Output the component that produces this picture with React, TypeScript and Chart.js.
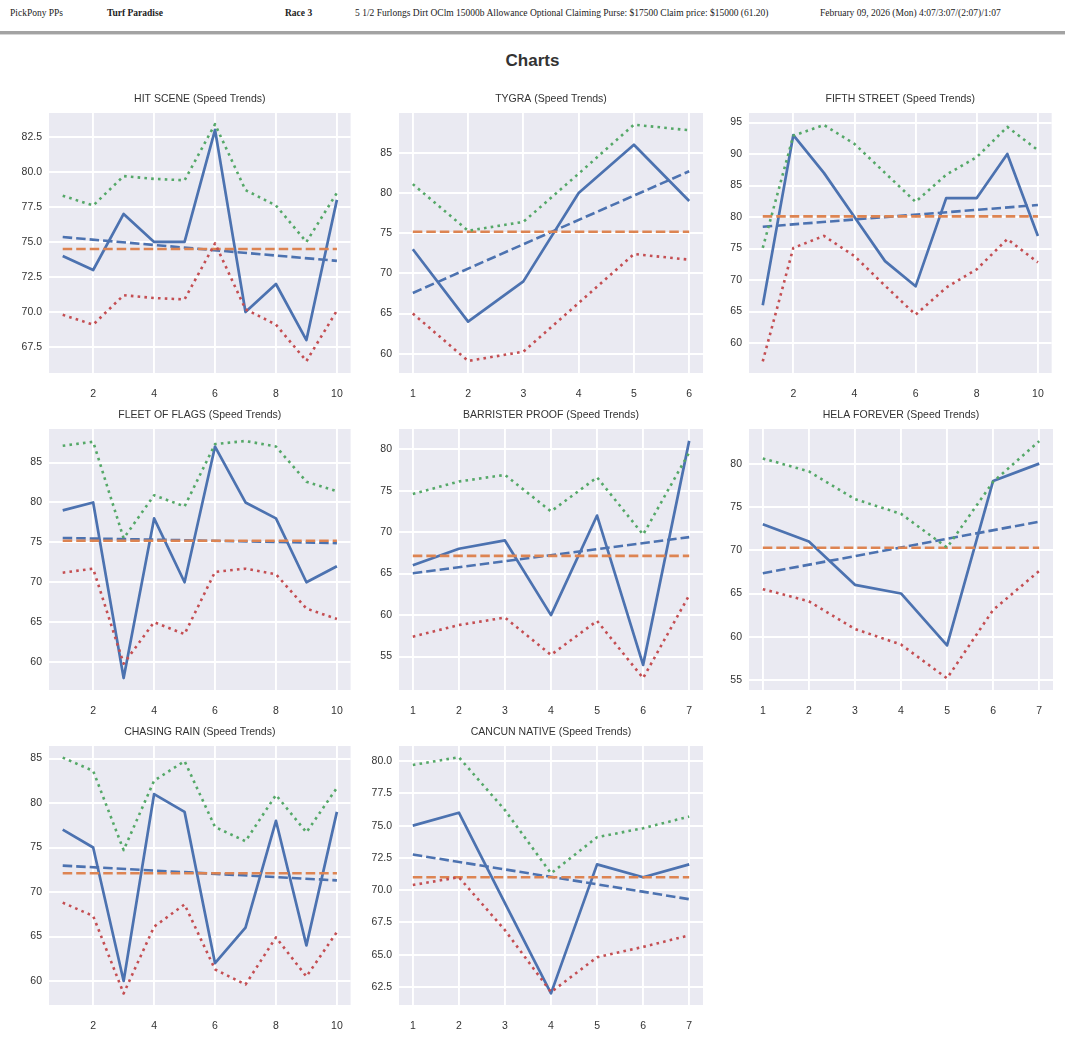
import React, { useEffect, useRef } from "react";
import { Chart, registerables } from "chart.js";

Chart.register(...registerables);

// ---------- data ----------
const horseNames = [
  "HIT SCENE",
  "TYGRA",
  "FIFTH STREET",
  "FLEET OF FLAGS",
  "BARRISTER PROOF",
  "HELA FOREVER",
  "CHASING RAIN",
  "CANCUN NATIVE",
];

const hitSceneSpeed = [74, 73, 77, 75, 75, 83, 70, 72, 68, 78];
const hitSceneUpper = [78.3, 77.6, 79.7, 79.5, 79.4, 83.4, 78.7, 77.6, 75.0, 78.5];
const hitSceneLower = [69.8, 69.1, 71.2, 71.0, 70.9, 74.9, 70.2, 69.1, 66.5, 70.1];
const hitSceneMean = 74.5;
const hitSceneTrend = [75.35, 73.65];

const tygraSpeed = [73, 64, 69, 80, 86, 79];
const tygraUpper = [81.1, 75.3, 76.4, 82.4, 88.5, 87.8];
const tygraLower = [65.0, 59.1, 60.25, 66.3, 72.4, 71.7];
const tygraMean = 75.17;
const tygraTrend = [67.56, 82.7];

const fifthStreetSpeed = [66, 93, 87, 80, 73, 69, 83, 83, 90, 77];
const fifthStreetUpper = [75.1, 92.9, 94.6, 91.6, 87.0, 82.4, 86.7, 89.5, 94.3, 90.6];
const fifthStreetLower = [57.1, 75.1, 77.0, 73.8, 69.1, 64.5, 68.8, 71.7, 76.5, 72.8];
const fifthStreetMean = 80.1;
const fifthStreetTrend = [78.45, 81.9];

const fleetSpeed = [79, 80, 58, 78, 70, 87, 80, 78, 70, 72];
const fleetUpper = [87.1, 87.6, 75.5, 80.9, 79.5, 87.3, 87.7, 87.0, 82.6, 81.4];
const fleetLower = [71.2, 71.7, 59.8, 65.0, 63.5, 71.3, 71.7, 71.0, 66.7, 65.4];
const fleetMean = 75.2;
const fleetTrend = [75.55, 74.9];

const barristerSpeed = [66, 68, 69, 60, 72, 54, 81];
const barristerUpper = [74.6, 76.1, 76.9, 72.5, 76.6, 69.7, 79.6];
const barristerLower = [57.4, 58.8, 59.7, 55.2, 59.3, 52.4, 62.4];
const barristerMean = 67.14;
const barristerTrend = [65.05, 69.4];

const helaSpeed = [73, 71, 66, 65, 59, 78, 80];
const helaUpper = [80.6, 79.1, 75.9, 74.2, 70.3, 77.9, 82.6];
const helaLower = [65.5, 64.1, 60.9, 59.1, 55.2, 63.1, 67.6];
const helaMean = 70.29;
const helaTrend = [67.33, 73.3];

const chasingSpeed = [77, 75, 60, 81, 79, 62, 66, 78, 64, 79];
const chasingUpper = [85.1, 83.6, 74.7, 82.5, 84.7, 77.3, 75.7, 80.9, 76.7, 81.7];
const chasingLower = [68.8, 67.3, 58.6, 66.1, 68.6, 61.3, 59.6, 64.9, 60.5, 65.5];
const chasingMean = 72.1;
const chasingTrend = [72.96, 71.3];

const cancunSpeed = [75, 76, 69, 62, 72, 71, 72];
const cancunUpper = [79.7, 80.3, 76.2, 71.3, 74.1, 74.8, 75.7];
const cancunLower = [70.4, 71.0, 66.9, 62.1, 64.8, 65.6, 66.5];
const cancunMean = 71.0;
const cancunTrend = [72.76, 69.3];

const xTicksTen = [2, 4, 6, 8, 10];
const xTicksSix = [1, 2, 3, 4, 5, 6];
const xTicksSeven = [1, 2, 3, 4, 5, 6, 7];

const yTicksHit = [67.5, 70, 72.5, 75, 77.5, 80, 82.5];
const yTicksTygra = [60, 65, 70, 75, 80, 85];
const yTicksFifth = [60, 65, 70, 75, 80, 85, 90, 95];
const yTicksFleet = [60, 65, 70, 75, 80, 85];
const yTicksBarrister = [55, 60, 65, 70, 75, 80];
const yTicksHela = [55, 60, 65, 70, 75, 80];
const yTicksChasing = [60, 65, 70, 75, 80, 85];
const yTicksCancun = [62.5, 65, 67.5, 70, 72.5, 75, 77.5, 80];

const yRanges = [
  [65.65, 84.2],
  [57.6, 89.95],
  [55.25, 96.5],
  [56.5, 89.2],
  [50.97, 82.43],
  [53.85, 84.0],
  [57.3, 86.4],
  [61.1, 81.17],
];

// ---------- styles ----------
const BLUE = "#4C72B0";
const ORANGE = "#DD8452";
const GREEN = "#55A868";
const RED = "#C44E52";
const PLOT_BG = "#EAEAF2";
const TEXT = "#333333";
const FONT = "'Liberation Sans', Arial, Helvetica, sans-serif";

type Panel = {
  name: string;
  speed: number[];
  upper: number[];
  lower: number[];
  mean: number;
  trend: number[];
  yTicks: number[];
  xTicks: number[];
  decimals: number;
  yRange: number[];
};

const panels: Panel[] = [
  { name: horseNames[0], speed: hitSceneSpeed, upper: hitSceneUpper, lower: hitSceneLower, mean: hitSceneMean, trend: hitSceneTrend, yTicks: yTicksHit, xTicks: xTicksTen, decimals: 1, yRange: yRanges[0] },
  { name: horseNames[1], speed: tygraSpeed, upper: tygraUpper, lower: tygraLower, mean: tygraMean, trend: tygraTrend, yTicks: yTicksTygra, xTicks: xTicksSix, decimals: 0, yRange: yRanges[1] },
  { name: horseNames[2], speed: fifthStreetSpeed, upper: fifthStreetUpper, lower: fifthStreetLower, mean: fifthStreetMean, trend: fifthStreetTrend, yTicks: yTicksFifth, xTicks: xTicksTen, decimals: 0, yRange: yRanges[2] },
  { name: horseNames[3], speed: fleetSpeed, upper: fleetUpper, lower: fleetLower, mean: fleetMean, trend: fleetTrend, yTicks: yTicksFleet, xTicks: xTicksTen, decimals: 0, yRange: yRanges[3] },
  { name: horseNames[4], speed: barristerSpeed, upper: barristerUpper, lower: barristerLower, mean: barristerMean, trend: barristerTrend, yTicks: yTicksBarrister, xTicks: xTicksSeven, decimals: 0, yRange: yRanges[4] },
  { name: horseNames[5], speed: helaSpeed, upper: helaUpper, lower: helaLower, mean: helaMean, trend: helaTrend, yTicks: yTicksHela, xTicks: xTicksSeven, decimals: 0, yRange: yRanges[5] },
  { name: horseNames[6], speed: chasingSpeed, upper: chasingUpper, lower: chasingLower, mean: chasingMean, trend: chasingTrend, yTicks: yTicksChasing, xTicks: xTicksTen, decimals: 0, yRange: yRanges[6] },
  { name: horseNames[7], speed: cancunSpeed, upper: cancunUpper, lower: cancunLower, mean: cancunMean, trend: cancunTrend, yTicks: yTicksCancun, xTicks: xTicksSeven, decimals: 1, yRange: yRanges[7] },
];

// plot-area geometry (page pixels)
const COL_LEFT = [49, 399, 749];
const COL_RIGHT = [352, 703, 1053];
const ROW_TOP = [113, 429, 746];
const ROW_BOTTOM = [373, 690, 1005];
const PAD_L = 48;
const PAD_T = 30;
const PAD_R = 6;
const PAD_B = 34;

const bgPlugin = {
  id: "plotBg",
  beforeDraw(chart: any) {
    const { ctx, chartArea } = chart;
    if (!chartArea) return;
    ctx.save();
    ctx.fillStyle = PLOT_BG;
    ctx.fillRect(chartArea.left, chartArea.top, chartArea.right - chartArea.left, chartArea.bottom - chartArea.top);
    ctx.restore();
  },
};

const titlePlugin = {
  id: "panelTitle",
  afterDraw(chart: any, _args: any, opts: any) {
    const { ctx, chartArea } = chart;
    ctx.save();
    ctx.fillStyle = TEXT;
    ctx.font = `10.5px ${FONT}`;
    ctx.textAlign = "center";
    ctx.textBaseline = "middle";
    ctx.fillText(opts.text, (chartArea.left + chartArea.right) / 2, chartArea.top - 14);
    ctx.restore();
  },
};

function SpeedChart({ panel, index }: { panel: Panel; index: number }) {
  const ref = useRef<HTMLCanvasElement>(null);
  const col = index % 3;
  const row = Math.floor(index / 3);
  const plotW = COL_RIGHT[col] - COL_LEFT[col];
  const plotH = ROW_BOTTOM[row] - ROW_TOP[row];
  const W = plotW + PAD_L + PAD_R;
  const H = plotH + PAD_T + PAD_B;

  useEffect(() => {
    const n = panel.speed.length;
    const pts = (arr: number[]) => arr.map((v, i) => ({ x: i + 1, y: v }));
    const margin = 0.05 * (n - 1);
    const chart = new Chart(ref.current as HTMLCanvasElement, {
      type: "line",
      data: {
        datasets: [
          { label: "Speed", data: pts(panel.speed), borderColor: BLUE, borderWidth: 2.7, order: 5 },
          { label: "Trend", data: [{ x: 1, y: panel.trend[0] }, { x: n, y: panel.trend[1] }], borderColor: BLUE, borderWidth: 2.6, borderDash: [9.5, 4], order: 4 },
          { label: "Mean", data: [{ x: 1, y: panel.mean }, { x: n, y: panel.mean }], borderColor: ORANGE, borderWidth: 2.6, borderDash: [9.5, 4], order: 3 },
          { label: "Upper", data: pts(panel.upper), borderColor: GREEN, borderWidth: 2.6, borderDash: [2.6, 4.2], order: 2 },
          { label: "Lower", data: pts(panel.lower), borderColor: RED, borderWidth: 2.6, borderDash: [2.6, 4.2], order: 1 },
        ] as any,
      },
      options: {
        animation: false,
        responsive: false,
        maintainAspectRatio: false,
        layout: { padding: { top: PAD_T, right: PAD_R, left: 0, bottom: 0 } },
        elements: {
          point: { radius: 0, hoverRadius: 0 },
          line: { tension: 0, borderCapStyle: "butt", borderJoinStyle: "round", fill: false },
        },
        plugins: {
          legend: { display: false },
          tooltip: { enabled: false },
          title: { display: false },
          panelTitle: { text: `${panel.name} (Speed Trends)` },
        } as any,
        scales: {
          x: {
            type: "linear",
            min: 1 - margin,
            max: n + margin,
            afterBuildTicks: (s: any) => {
              s.ticks = panel.xTicks.map((v) => ({ value: v }));
            },
            afterFit: (s: any) => {
              s.height = PAD_B;
            },
            grid: { color: "#ffffff", lineWidth: 1.9, drawTicks: false },
            border: { display: false },
            ticks: {
              padding: 15,
              color: TEXT,
              font: { size: 10.5, family: FONT },
              maxRotation: 0,
              autoSkip: false,
              callback: (v: any) => String(v),
            },
          },
          y: {
            type: "linear",
            min: panel.yRange[0],
            max: panel.yRange[1],
            afterBuildTicks: (s: any) => {
              s.ticks = panel.yTicks.map((v) => ({ value: v }));
            },
            afterFit: (s: any) => {
              s.width = PAD_L;
            },
            grid: { color: "#ffffff", lineWidth: 1.9, drawTicks: false },
            border: { display: false },
            ticks: {
              padding: 7,
              color: TEXT,
              font: { size: 10.5, family: FONT },
              autoSkip: false,
              callback: (v: any) => Number(v).toFixed(panel.decimals),
            },
          },
        },
      },
      plugins: [bgPlugin, titlePlugin],
    });
    return () => chart.destroy();
  }, [panel]);

  return (
    <canvas
      ref={ref}
      width={W}
      height={H}
      style={{
        position: "absolute",
        left: COL_LEFT[col] - PAD_L,
        top: ROW_TOP[row] - PAD_T,
        width: W,
        height: H,
        display: "block",
      }}
    />
  );
}

const headerItems = [
  { text: "PickPony PPs", x: 10, bold: false },
  { text: "Turf Paradise", x: 107, bold: true },
  { text: "Race 3", x: 285, bold: true },
  { text: "5 1/2 Furlongs Dirt OClm 15000b Allowance Optional Claiming Purse: $17500 Claim price: $15000 (61.20)", x: 355, bold: false },
  { text: "February 09, 2026 (Mon) 4:07/3:07/(2:07)/1:07", x: 820, bold: false },
];

export default function App() {
  return (
    <div
      style={{
        position: "absolute",
        left: 0,
        top: 0,
        width: 1065,
        height: 1052,
        background: "#ffffff",
        overflow: "hidden",
      }}
    >
      {headerItems.map((h) => (
        <div
          key={h.text}
          style={{
            position: "absolute",
            left: h.x,
            top: 6,
            fontFamily: "'Liberation Serif', 'Times New Roman', serif",
            fontSize: 9.5,
            lineHeight: "14px",
            fontWeight: h.bold ? 700 : 400,
            color: "#222",
            whiteSpace: "nowrap",
          }}
        >
          {h.text}
        </div>
      ))}
      <div style={{ position: "absolute", left: 0, top: 31, width: 1065, height: 3, background: "#a3a3a3" }} />
      <div style={{ position: "absolute", left: 0, top: 34, width: 1065, height: 1, background: "#d6d6d6" }} />
      <div
        style={{
          position: "absolute",
          left: 0,
          top: 50,
          width: 1065,
          textAlign: "center",
          fontFamily: FONT,
          fontWeight: 700,
          fontSize: 17,
          lineHeight: "22px",
          color: "#333",
        }}
      >
        Charts
      </div>
      {panels.map((p, i) => (
        <SpeedChart key={p.name} panel={p} index={i} />
      ))}
    </div>
  );
}
